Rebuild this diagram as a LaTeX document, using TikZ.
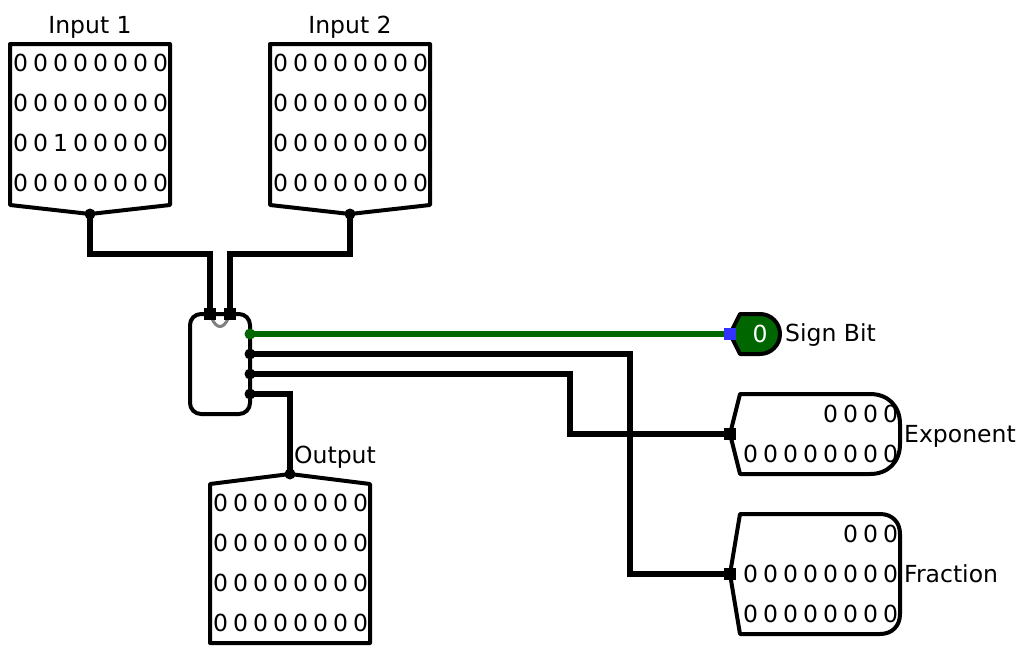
\documentclass[tikz,border=0pt]{standalone}
\usepackage{fontspec}
\setmainfont{DejaVu Sans}
\definecolor{wiregreen}{RGB}{0,102,0}
\definecolor{pinblue}{RGB}{51,51,255}
\newcommand{\digitrow}[4]{%
  \foreach \d [count=\i from 0] in {#4} {
    \node[digit] (#1-\i) at ({#2+20*\i},#3) {\d};
  }%
}
\tikzset{
  x=1pt,y=-1pt,
  outline/.style={draw=black,line width=4pt,line join=round,fill=white},
  wire/.style={draw=black,line width=6pt,line join=miter},
  greenwire/.style={wire,draw=wiregreen},
  digit/.style={inner sep=0pt,font=\fontsize{23.5}{24}\selectfont},
  label/.style={inner sep=0pt,font=\fontsize{23.5}{24}\selectfont},
  pindot/.style={circle,fill=black,inner sep=0pt,minimum size=11pt},
  pinsq/.style={rectangle,fill=black,inner sep=0pt,minimum size=12pt},
}
\begin{document}
\begin{tikzpicture}
\useasboundingbox (0,0) rectangle (1026,654);
% component bodies
\draw[outline] (10,44) -- (170,44) -- (170,205) -- (90,214) -- (10,205) -- cycle;
\draw[outline] (270,44) -- (430,44) -- (430,205) -- (350,214) -- (270,205) -- cycle;
\draw[outline] (210,484) -- (290,474) -- (370,484) -- (370,643) -- (210,643) -- cycle;
\draw[outline,rounded corners=11pt] (190,314) rectangle (250,414);
\draw[draw=gray,line width=3pt] (212,319) .. controls (217,329) and (223,329) .. (228,319);
\draw[outline,fill=wiregreen] (730,334) -- (740,314) -- (760,314) arc[start angle=-90,end angle=90,radius=20pt,y radius=-20pt] -- (740,354) -- cycle;
\draw[outline] (730,434) -- (740,394) -- (870,394) .. controls (888,394) and (900,406) .. (900,424) -- (900,444) .. controls (900,462) and (888,474) .. (870,474) -- (740,474) -- cycle;
\draw[outline] (730,574) -- (740,514) -- (880,514) .. controls (892,514) and (900,522) .. (900,534) -- (900,614) .. controls (900,626) and (892,634) .. (880,634) -- (740,634) -- cycle;
% pins
\node[pindot] (in1pin) at (90,214) {};
\node[pindot] (in2pin) at (350,214) {};
\node[pindot] (outpin) at (290,474) {};
\node[pinsq] (sa) at (210,314) {};
\node[pinsq] (sb) at (230,314) {};
\node[pindot,fill=wiregreen] (ss) at (250,334) {};
\node[pindot] (se) at (250,354) {};
\node[pindot] (sf) at (250,374) {};
\node[pindot] (sm) at (250,394) {};
\node[pinsq,fill=pinblue] (signpin) at (730,334) {};
\node[pinsq] (exppin) at (730,434) {};
\node[pinsq] (fracpin) at (730,574) {};
% bends
\coordinate (b1) at (90,254);
\coordinate (b2) at (210,254);
\coordinate (b3) at (350,254);
\coordinate (b4) at (230,254);
\coordinate (b5) at (630,354);
\coordinate (b6) at (630,574);
\coordinate (b7) at (570,374);
\coordinate (b8) at (570,434);
\coordinate (b9) at (290,394);
% wires
\draw[wire] (in1pin.center) -- (b1) -- (b2) -- (sa.center);
\draw[wire] (in2pin.center) -- (b3) -- (b4) -- (sb.center);
\draw[greenwire] (ss.center) -- (signpin.west);
\draw[wire] (se.center) -- (b5) -- (b6) -- (fracpin.center);
\draw[wire] (sf.center) -- (b7) -- (b8) -- (exppin.center);
\draw[wire] (sm.center) -- (b9) -- (outpin.center);
% digits
\digitrow{a}{20.5}{63}{0,0,0,0,0,0,0,0}
\digitrow{b}{20.5}{103}{0,0,0,0,0,0,0,0}
\digitrow{c}{20.5}{143}{0,0,1,0,0,0,0,0}
\digitrow{d}{20.5}{183}{0,0,0,0,0,0,0,0}
\digitrow{e}{280.5}{63}{0,0,0,0,0,0,0,0}
\digitrow{f}{280.5}{103}{0,0,0,0,0,0,0,0}
\digitrow{g}{280.5}{143}{0,0,0,0,0,0,0,0}
\digitrow{h}{280.5}{183}{0,0,0,0,0,0,0,0}
\digitrow{i}{220.5}{503}{0,0,0,0,0,0,0,0}
\digitrow{j}{220.5}{543}{0,0,0,0,0,0,0,0}
\digitrow{k}{220.5}{583}{0,0,0,0,0,0,0,0}
\digitrow{l}{220.5}{623}{0,0,0,0,0,0,0,0}
\digitrow{m}{830.5}{414}{0,0,0,0}
\digitrow{n}{750.5}{454}{0,0,0,0,0,0,0,0}
\digitrow{o}{850.5}{534}{0,0,0}
\digitrow{p}{750.5}{574}{0,0,0,0,0,0,0,0}
\digitrow{q}{750.5}{614}{0,0,0,0,0,0,0,0}
\node[digit,text=white] (signval) at (760,334) {0};
% labels
\node[label] (l1) at (90,27) {Input 1};
\node[label] (l2) at (350,27) {Input 2};
\node[label,anchor=west] (l3) at (294,457) {Output};
\node[label,anchor=west] (l4) at (785,335) {Sign Bit};
\node[label,anchor=west] (l5) at (904,436) {Exponent};
\node[label,anchor=west] (l6) at (904,574) {Fraction};
\end{tikzpicture}
\end{document}
